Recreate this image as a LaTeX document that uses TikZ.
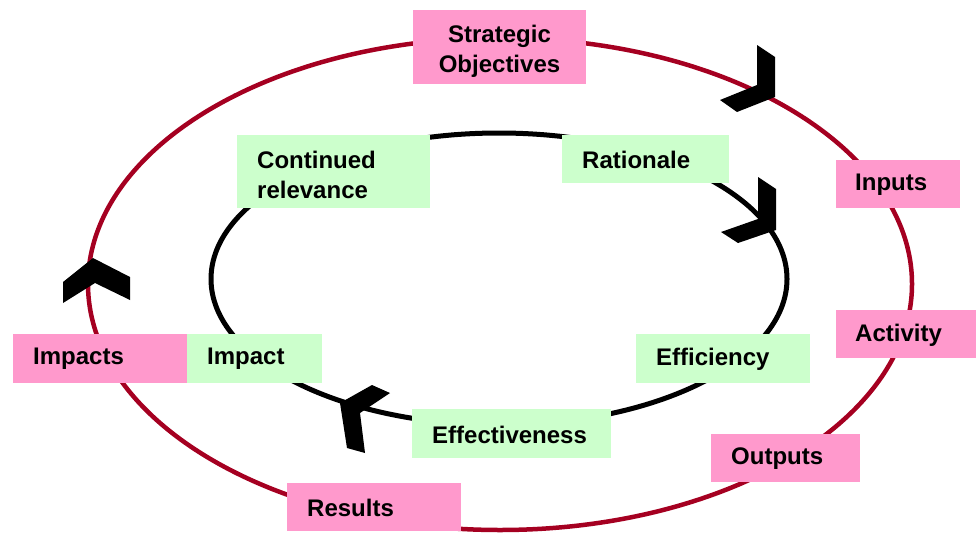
\documentclass[tikz,border=0pt]{standalone}
\usepackage{fontspec}
\setmainfont{Liberation Sans}
\definecolor{boxpink}{HTML}{FF99CC}
\definecolor{boxgreen}{HTML}{CCFFCC}
\definecolor{ringred}{HTML}{A50021}
\begin{document}
\begin{tikzpicture}[x=1pt,y=-1pt,
  lbl/.style={font=\fontsize{24}{30}\selectfont\bfseries, anchor=west, inner sep=0pt},
  pinkbox/.style={fill=boxpink, draw=none},
  greenbox/.style={fill=boxgreen, draw=none},
  chev/.style={fill=black, draw=none}]
\useasboundingbox (0,0) rectangle (976,533);
% rings
\draw[ringred, line width=4.5pt] (500,284) ellipse [x radius=412, y radius=246];
\draw[black, line width=5pt] (499,279) ellipse [x radius=288, y radius=146];
% pink boxes
\fill[pinkbox] (413,10) rectangle (586,84);
\fill[pinkbox] (836,160) rectangle (960,208);
\fill[pinkbox] (836,310) rectangle (976,358);
\fill[pinkbox] (711,434) rectangle (860,482);
\fill[pinkbox] (287,483) rectangle (461,531);
\fill[pinkbox] (13,334) rectangle (187,383);
% green boxes
\fill[greenbox] (237,135) rectangle (430,208);
\fill[greenbox] (562,135) rectangle (729,183);
\fill[greenbox] (636,334) rectangle (810,383);
\fill[greenbox] (412,409) rectangle (611,458);
\fill[greenbox] (187,334) rectangle (322,383);
% labels
\node[lbl, anchor=center, align=center] (so) at (499.5,51) {Strategic\\Objectives};
\node[lbl] (in) at (855,185) {Inputs};
\node[lbl] (ac) at (855,335) {Activity};
\node[lbl] (ou) at (731,459) {Outputs};
\node[lbl] (re) at (307,508) {Results};
\node[lbl] (ips) at (33,359) {Impacts};
\node[lbl, align=left] (cr) at (257,175) {Continued\\relevance};
\node[lbl] (ra) at (582,160) {Rationale};
\node[lbl] (ef) at (656,359) {Efficiency};
\node[lbl] (ev) at (432,435) {Effectiveness};
\node[lbl] (im) at (207,359) {Impact};
% chevrons
\fill[chev] (757,45) -- (775,57) -- (775,97) -- (737,112) -- (720,100) -- (757,85) -- cycle;
\fill[chev] (758,177) -- (776,189) -- (776,230) -- (738,243) -- (721,232) -- (758,219) -- cycle;
\fill[chev] (63,282) -- (93,258) -- (130,277) -- (130,300) -- (95,283) -- (63,303) -- cycle;
\fill[chev] (340,403) -- (372,385) -- (390,393) -- (360,413) -- (365,453) -- (347,448) -- cycle;
\end{tikzpicture}
\end{document}
